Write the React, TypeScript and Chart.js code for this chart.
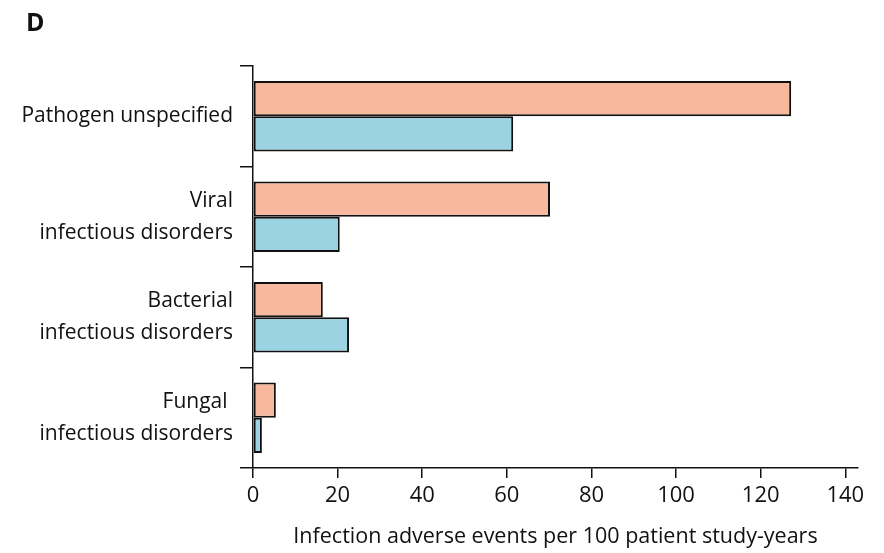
import React, { useEffect, useRef } from "react";
import { Chart, registerables } from "chart.js";

Chart.register(...registerables);

const categories: (string | string[])[] = [
  "Pathogen unspecified",
  ["Viral", "infectious disorders"],
  ["Bacterial", "infectious disorders"],
  ["Fungal ", "infectious disorders"],
];
const seriesPink = [127.2, 70.2, 16.5, 5.4];
const seriesBlue = [61.5, 20.5, 22.7, 2.1];
const xTicks = [0, 20, 40, 60, 80, 100, 120, 140];

const FONT = "'Open Sans', 'DejaVu Sans', sans-serif";
const INK = "#111111";

export default function App() {
  const ref = useRef<HTMLCanvasElement | null>(null);

  useEffect(() => {
    if (!ref.current) return;
    const chart = new Chart(ref.current, {
      type: "bar",
      data: {
        labels: categories,
        datasets: [
          {
            label: "Series A",
            data: seriesPink,
            backgroundColor: "#F8B89E",
            borderColor: INK,
            borderWidth: 2,
            borderSkipped: false,
          },
          {
            label: "Series B",
            data: seriesBlue,
            backgroundColor: "#9BD3E3",
            borderColor: INK,
            borderWidth: 2,
            borderSkipped: false,
          },
        ],
      },
      options: {
        indexAxis: "y",
        animation: false,
        responsive: false,
        maintainAspectRatio: false,
        layout: { padding: { top: 66, right: 26, bottom: 0, left: 0 } },
        datasets: { bar: { categoryPercentage: 0.7, barPercentage: 1 } },
        plugins: {
          legend: { display: false },
          tooltip: { enabled: false },
        },
        scales: {
          x: {
            type: "linear",
            min: 0,
            max: 143,
            afterBuildTicks: (scale: any) => {
              scale.ticks = xTicks.map((v) => ({ value: v }));
            },
            afterFit: (scale: any) => {
              scale.height = 85;
            },
            border: { color: INK, width: 1.5 },
            grid: {
              drawOnChartArea: false,
              drawTicks: true,
              tickLength: 10,
              color: INK,
              lineWidth: 1.5,
            },
            ticks: {
              color: INK,
              padding: 5,
              font: { family: FONT, size: 22, weight: 500 },
            },
            title: {
              display: true,
              text: "Infection adverse events per 100 patient study-years",
              color: INK,
              font: { family: FONT, size: 21.5, weight: 500 },
              padding: { top: 4, bottom: 3 },
            },
          },
          y: {
            type: "category",
            afterFit: (scale: any) => {
              scale.width = 253;
            },
            border: { color: INK, width: 1.5 },
            grid: {
              drawOnChartArea: false,
              drawTicks: true,
              tickLength: 13,
              color: INK,
              lineWidth: 1.5,
              offset: true,
            },
            ticks: {
              color: INK,
              padding: 7,
              font: { family: FONT, size: 21, weight: 500, lineHeight: 1.52 },
            },
          },
        },
      },
    });
    return () => chart.destroy();
  }, []);

  return (
    <div style={{ position: "fixed", left: 0, top: 0, width: 884, height: 553, background: "#fff" }}>
      <div
        style={{
          position: "absolute",
          left: 26,
          top: 4,
          fontFamily: FONT,
          fontWeight: 700,
          fontSize: 25,
          color: INK,
        }}
      >
        D
      </div>
      <canvas ref={ref} width={884} height={553} style={{ display: "block" }} />
    </div>
  );
}
